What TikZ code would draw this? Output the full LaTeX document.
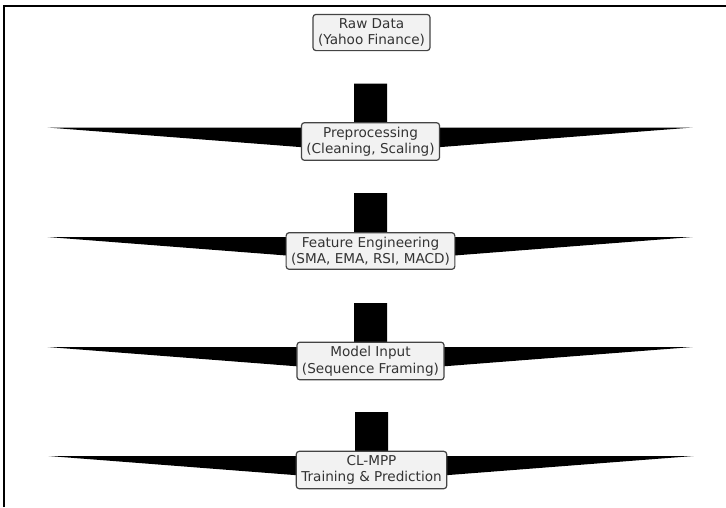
\documentclass[tikz,border=0pt]{standalone}
\usepackage{fontspec}
\setmainfont{DejaVu Sans}
\usetikzlibrary{calc,backgrounds}
\definecolor{boxfill}{HTML}{F2F2F2}
\definecolor{boxline}{HTML}{444444}
\definecolor{txt}{HTML}{333333}
\tikzset{
  stagebox/.style={draw=boxline, line width=1.2pt, fill=boxfill, rounded corners=3pt,
    align=center, inner xsep=5pt, inner ysep=4pt, text=txt,
    font=\fontsize{13.6}{16.5}\selectfont},
  fatarrow/.style={fill=black, draw=none},
  frameline/.style={line width=2pt, draw=black}
}
% draws the wide-headed flow arrow leading into node #1
\newcommand{\flowinto}[1]{%
  \fill[fatarrow]
    ($(#1)+(-16.5,-58)$) -- ($(#1)+(16.5,-58)$) -- ($(#1)+(16.5,-14)$) --
    ($(#1)+(322,-14)$) -- ($(#1)+(0,11)$) -- ($(#1)+(-323,-14)$) --
    ($(#1)+(-16.5,-14)$) -- cycle;}
\begin{document}
\begin{tikzpicture}[x=1pt,y=-1pt]
  \useasboundingbox (0,0) rectangle (726,507);

  \node[stagebox] (raw)   at (371.5,32.5) {Raw Data\\(Yahoo Finance)};
  \node[stagebox] (prep)  at (370.5,141.5) {Preprocessing\\(Cleaning, Scaling)};
  \node[stagebox] (feat)  at (370.5,251) {Feature Engineering\\(SMA, EMA, RSI, MACD)};
  \node[stagebox] (model) at (370.5,361) {Model Input\\(Sequence Framing)};
  \node[stagebox] (clmpp) at (371.5,470) {CL-MPP\\Training \& Prediction};

  \begin{scope}[on background layer]
    \fill[white] (0,0) rectangle (726,507);
    % axes frame (top and left edges)
    \draw[frameline] (4,507) -- (4,6) -- (726,6);
    \flowinto{prep}
    \flowinto{feat}
    \flowinto{model}
    \flowinto{clmpp}
  \end{scope}
\end{tikzpicture}
\end{document}
